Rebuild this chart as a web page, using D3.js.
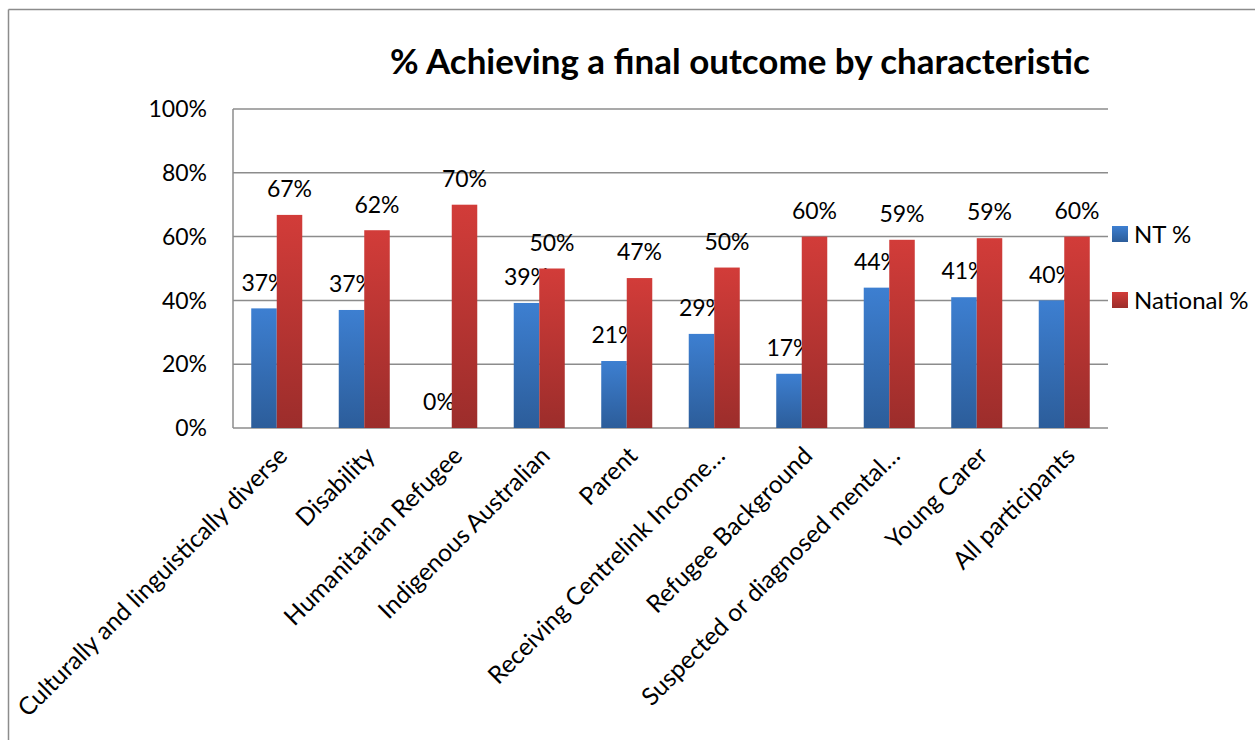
<!doctype html>
<html>
<head>
  <meta charset="utf-8">
  <title>% Achieving a final outcome by characteristic</title>
  <script src="https://d3js.org/d3.v7.min.js"></script>
  <style>
    body { margin: 0; background: #fff; }
    text { font-family: Lato, "Open Sans", sans-serif; fill: #000; }
    .grid line { stroke: #8c8c8c; stroke-width: 1.5; }
  </style>
</head>
<body>
<div id="chart"></div>
<script>
  // data
  var categories = ["Culturally and linguistically diverse", "Disability", "Humanitarian Refugee",
    "Indigenous Australian", "Parent", "Receiving Centrelink Income\u2026", "Refugee Background",
    "Suspected or diagnosed mental\u2026", "Young Carer", "All participants"];
  var ntValues = [0.375, 0.37, 0, 0.392, 0.21, 0.295, 0.17, 0.44, 0.41, 0.40];
  var ntLabels = ["37%", "37%", "0%", "39%", "21%", "29%", "17%", "44%", "41%", "40%"];
  var nationalValues = [0.668, 0.62, 0.70, 0.50, 0.47, 0.503, 0.60, 0.59, 0.595, 0.60];
  var nationalLabels = ["67%", "62%", "70%", "50%", "47%", "50%", "60%", "59%", "59%", "60%"];
  var seriesNames = ["NT %", "National %"];
  var yTicks = [0, 0.2, 0.4, 0.6, 0.8, 1.0];

  var W = 1255, H = 740;
  var plot = {left: 233, top: 109, right: 1108, bottom: 428};
  var fs = "23px";

  var svg = d3.select("#chart").append("svg")
    .attr("width", W).attr("height", H);

  // gradients for the bars
  var defs = svg.append("defs");
  function grad(id, top, bottom) {
    var g = defs.append("linearGradient").attr("id", id)
      .attr("x1", 0).attr("y1", 0).attr("x2", 0).attr("y2", 1);
    g.append("stop").attr("offset", "0%").attr("stop-color", top);
    g.append("stop").attr("offset", "100%").attr("stop-color", bottom);
  }
  grad("gBlue", "#3d7fd1", "#2c5d9a");
  grad("gRed", "#d23c39", "#9c2d2b");

  // outer border (only top and left visible)
  svg.append("line").attr("x1", 8.5).attr("y1", 9.5).attr("x2", W).attr("y2", 9.5)
    .attr("stroke", "#8c8c8c").attr("stroke-width", 1.5);
  svg.append("line").attr("x1", 8.5).attr("y1", 9.5).attr("x2", 8.5).attr("y2", H)
    .attr("stroke", "#8c8c8c").attr("stroke-width", 1.5);

  var x0 = d3.scaleBand().domain(categories).range([plot.left, plot.right]).paddingInner(0).paddingOuter(0);
  var x1 = d3.scaleBand().domain(seriesNames).range([0, x0.bandwidth()]).paddingInner(0).paddingOuter(0.715);
  var y = d3.scaleLinear().domain([0, 1]).range([plot.bottom, plot.top]);

  // gridlines
  var grid = svg.append("g").attr("class", "grid");
  grid.selectAll("line").data(yTicks).enter().append("line")
    .attr("x1", plot.left).attr("x2", plot.right)
    .attr("y1", function(d) { return y(d); }).attr("y2", function(d) { return y(d); });
  grid.append("line").attr("x1", plot.left).attr("x2", plot.left)
    .attr("y1", plot.top).attr("y2", plot.bottom);

  // y axis labels
  svg.append("g").selectAll("text").data(yTicks).enter().append("text")
    .attr("x", plot.left - 26).attr("y", function(d) { return y(d); })
    .attr("dy", "0.36em").attr("text-anchor", "end")
    .style("font-size", fs)
    .text(function(d) { return Math.round(d * 100) + "%"; });

  var series = [
    {name: seriesNames[0], values: ntValues, labels: ntLabels, fill: "url(#gBlue)"},
    {name: seriesNames[1], values: nationalValues, labels: nationalLabels, fill: "url(#gRed)"}
  ];

  series.forEach(function(s) {
    var g = svg.append("g");
    g.selectAll("rect").data(s.values).enter().append("rect")
      .attr("x", function(d, i) { return x0(categories[i]) + x1(s.name); })
      .attr("width", x1.bandwidth())
      .attr("y", function(d) { return y(d); })
      .attr("height", function(d) { return y(0) - y(d); })
      .attr("fill", s.fill);
    g.selectAll("text").data(s.values).enter().append("text")
      .attr("x", function(d, i) { return x0(categories[i]) + x1(s.name) + x1.bandwidth() / 2; })
      .attr("y", function(d) { return y(d) - 26; })
      .attr("dy", "0.36em").attr("text-anchor", "middle")
      .style("font-size", fs)
      .text(function(d, i) { return s.labels[i]; });
  });

  // x axis category labels (rotated)
  svg.append("g").selectAll("text").data(categories).enter().append("text")
    .attr("transform", function(d) {
      return "translate(" + (x0(d) + x0.bandwidth() / 2 + 6) + "," + (plot.bottom + 23) + ") rotate(-45)";
    })
    .attr("text-anchor", "end").attr("dy", "0.36em")
    .style("font-size", "24.5px")
    .text(function(d) { return d; });

  // title, scaled to the width seen in the reference
  var title = svg.append("text")
    .attr("x", 740).attr("y", 74).attr("text-anchor", "middle")
    .style("font-size", "29px").style("font-weight", "bold")
    .text("% Achieving a final outcome by characteristic");
  var tw = title.node().getComputedTextLength();
  title.style("font-size", (29 * 700 / tw) + "px");

  // legend
  var legend = svg.append("g");
  series.forEach(function(s, i) {
    var ly = i === 0 ? 234 : 300;
    legend.append("rect").attr("x", 1112).attr("y", ly - 8).attr("width", 16).attr("height", 16)
      .attr("fill", s.fill);
    legend.append("text").attr("x", 1134).attr("y", ly).attr("dy", "0.36em")
      .style("font-size", "24px").text(s.name);
  });
</script>
</body>
</html>
